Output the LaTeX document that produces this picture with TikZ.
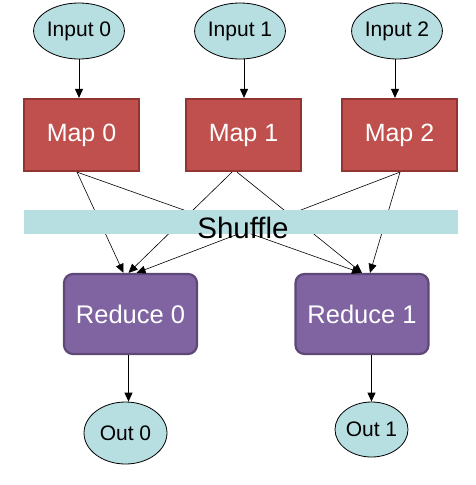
\documentclass[tikz,border=0pt]{standalone}
\usepackage{fontspec}
\setmainfont{Liberation Sans}
\usetikzlibrary{shapes.geometric,arrows.meta}
\definecolor{teal}{RGB}{183,222,225}
\definecolor{mapfill}{RGB}{192,80,77}
\definecolor{mapdraw}{RGB}{145,52,50}
\definecolor{redfill}{RGB}{128,100,162}
\definecolor{reddraw}{RGB}{94,72,120}
\tikzset{
  io/.style={ellipse, draw=black, fill=teal, inner sep=0pt, line width=0.8pt, font=\fontsize{21}{21}\selectfont},
  mapbox/.style={rectangle, draw=mapdraw, fill=mapfill, line width=2.2pt, minimum width=115pt, minimum height=72pt, text=white, font=\fontsize{25}{25}\selectfont},
  redbox/.style={rectangle, rounded corners=9pt, draw=reddraw, fill=redfill, line width=2.2pt, minimum width=133pt, minimum height=80pt, text=white, font=\fontsize{25.5}{25.5}\selectfont},
  arr/.style={-{Triangle[length=9pt,width=8pt]}, line width=0.9pt},
  thin/.style={-{Triangle[length=9pt,width=8pt]}, line width=0.6pt}
}
\begin{document}
\begin{tikzpicture}[x=1pt,y=-1pt]
\useasboundingbox (0,0) rectangle (476,485);
% inputs
\node[io, minimum width=76pt, minimum height=56pt] (in0) at (79,31) {Input 0};
\node[io, minimum width=74pt, minimum height=56pt] (in1) at (240,31) {Input 1};
\node[io, minimum width=76pt, minimum height=56pt] (in2) at (397,31) {Input 2};
% maps
\node[mapbox] (m0) at (81.5,135) {Map 0};
\node[mapbox] (m1) at (243.5,135) {Map 1};
\node[mapbox] (m2) at (399.5,135) {Map 2};
% reduces
\node[redbox] (r0) at (130.5,314) {Reduce 0};
\node[redbox] (r1) at (362,314) {Reduce 1};
% outs
\node[io, minimum width=83pt, minimum height=62pt] (o0) at (125.5,433) {Out 0};
\node[io, minimum width=73pt, minimum height=55pt] (o1) at (371.5,429.5) {Out 1};
% input arrows
\draw[arr] (in0.south) -- (in0.south |- m0.north);
\draw[arr] ([xshift=4pt]in1.south) -- ([xshift=4pt]in1.south |- m1.north);
\draw[arr] ([xshift=-2pt]in2.south) -- ([xshift=-2pt]in2.south |- m2.north);
% shuffle arrows
\coordinate (m0o) at ([xshift=-4.5pt]m0.south);
\coordinate (m1a) at ([xshift=-11.5pt]m1.south);
\coordinate (m1b) at ([xshift=-6.5pt]m1.south);
\coordinate (m2o) at ([xshift=0.5pt]m2.south);
\draw[thin] (m0o) -- ([xshift=-7pt]r0.north);
\draw[thin] (m1a) -- ([xshift=-2pt]r0.north);
\draw[thin] (m2o) -- ([xshift=6pt]r0.north);
\draw[thin] (m0o) -- ([xshift=-1pt]r1.north);
\draw[thin] (m1b) -- ([xshift=0pt]r1.north);
\draw[thin] (m2o) -- ([xshift=8pt]r1.north);
% shuffle band
\node[rectangle, fill=teal, minimum width=434pt, minimum height=24pt, inner sep=0pt] (band) at (241,222) {};
\node[font=\fontsize{29.5}{29.5}\selectfont, inner sep=0pt] (shuf) at (243,228) {Shuffle};
% output arrows
\draw[arr] ([xshift=-2pt]r0.south) -- ([xshift=-2pt]r0.south |- o0.north);
\draw[arr] ([xshift=9.5pt]r1.south) -- ([xshift=9.5pt]r1.south |- o1.north);
\end{tikzpicture}
\end{document}
